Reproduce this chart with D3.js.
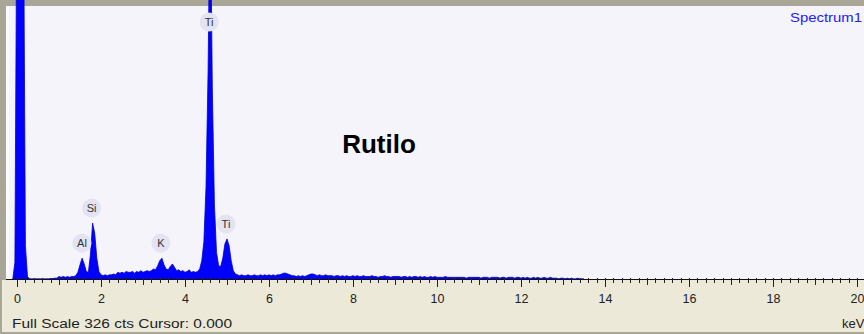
<!DOCTYPE html>
<html><head><meta charset="utf-8">
<script src="https://cdn.jsdelivr.net/npm/d3@7"></script>
<style>body{margin:0;background:#fff}svg{display:block}</style>
</head><body>
<svg id="c" width="864" height="334"></svg>
<script>
// ---- data ----
const channelStart = -0.10;   // keV of first channel
const channelWidth = 0.05;    // keV per channel
const counts = [
0,20,500,500,500,500,40,3,0,0, 0,0,0,0,0,0,0,0,0.5,0.5,
1,1,3,2,3,2,3,2,3,3, 4,8,17,25,18,9,8,30,67,55,
25,9,5,4,5,4,5,5,6,5, 8,7,8,7,9,8,8,9,7,9,
8,10,8,9,10,9,10,12,11,16, 22,25,17,12,11,15,18,14,10,11,
9,10,8,9,11,8,9,8,9,12, 22,45,110,250,480,230,90,32,16,15,
25,42,48,40,22,10,6,5,4,5, 4,4,5,4,4,5,4,4,5,4,
5,4,5,4,5,4,5,5,6,7, 7,6,5,4,4,3,4,3,4,3,
4,5,6,6,5,4,5,4,4,5, 4,4,4,3,4,4,3,4,3,4,
3,3,4,
3,4,3,3,4,3,3,3,4,3, 3,2,3,3,4,3,3,2,3,3, 3,3,2,3,3,2,3,2,3,3, 2,3,2,3,2,2,3,2,3,2,
2,2,2,3,2,2,2,2,2,2, 2,2,2,1,2,2,2,2,2,2, 1,2,2,2,1,2,2,2,2,1, 2,2,1,2,2,2,1,2,2,1,
2,1,2,1,1,2,1,2,1,1, 2,1,1,2,1,1,1,0,1,1, 0,1,0,1,0,0,1,0,0,0
];
const peakLabels = ["Ti", "Si", "Al", "K", "Ti"];
const peakEnergies = [4.60, 1.80, 1.57, 3.45, 5.00];
const peakCounts = [480, 67, 25, 25, 48];
const tickValues = [0, 2, 4, 6, 8, 10, 12, 14, 16, 18, 20];
const fullScale = 326;
const title = "Rutilo";
const spectrumName = "Spectrum1";
const footer = "Full Scale 326 cts Cursor: 0.000";
const unit = "keV";

// ---- layout ----
const W = 864, H = 334;
const svg = d3.select("#c");
const x = d3.scaleLinear().domain([0, 20]).range([17, 857]);
const y = d3.scaleLinear().domain([0, fullScale]).range([279, 7]);

// background
svg.append("rect").attr("width", W).attr("height", H).attr("fill", "#f4f4fa");
svg.append("rect").attr("x", 6).attr("y", 6).attr("width", 3).attr("height", 274).attr("fill", "#fcfcfe");
svg.append("rect").attr("width", W).attr("height", 6).attr("fill", "#a9a597");
svg.append("rect").attr("width", 6).attr("height", 280).attr("fill", "#a9a597");

// clip
svg.append("clipPath").attr("id", "pc").append("rect")
  .attr("x", 9).attr("y", 0).attr("width", W - 9).attr("height", 279);

const data = counts.map((c, i) => ({e: channelStart + i * channelWidth, c}));
const area = d3.area().x(d => x(d.e)).y0(y(0)).y1(d => y(d.c)).curve(d3.curveLinear);
svg.append("path").datum(data).attr("clip-path", "url(#pc)")
  .attr("d", area).attr("fill", "#0000ff").attr("stroke", "#0000c8").attr("stroke-width", 0.8);

// bottom panel
svg.append("rect").attr("x", 0).attr("y", 280).attr("width", W).attr("height", 54).attr("fill", "#ece9d8");
svg.append("rect").attr("x", 0).attr("y", 280).attr("width", 2).attr("height", 54).attr("fill", "#a9a597");
svg.append("rect").attr("x", 0).attr("y", 332).attr("width", W).attr("height", 2).attr("fill", "#a9a597");

// axis line + ticks
svg.append("line").attr("x1", 6).attr("x2", W).attr("y1", 279.5).attr("y2", 279.5)
  .attr("stroke", "#111").attr("stroke-width", 1.2);
const minor = d3.range(0, 101).map(i => i * 0.2);
svg.append("g").selectAll("line").data(minor).join("line")
  .attr("x1", d => Math.round(x(d)) + 0.5).attr("x2", d => Math.round(x(d)) + 0.5)
  .attr("y1", 278)
  .attr("y2", (d, i) => i % 10 === 0 ? 287 : (i % 5 === 0 ? 285 : 283))
  .attr("stroke", "#222").attr("stroke-width", 1);

const axis = d3.axisBottom(x).tickValues(tickValues).tickSize(0).tickPadding(0).tickFormat(d3.format("d"));
const ag = svg.append("g").attr("transform", "translate(0,294)").call(axis);
ag.select(".domain").remove();
ag.selectAll("text").attr("font-family", "Liberation Sans, Arial, sans-serif")
  .attr("font-size", 12.5).attr("fill", "#222").attr("dy", "0.71em");

// peak labels
const lg = svg.append("g");
peakLabels.forEach((lab, i) => {
  const cx = x(peakEnergies[i]) - 1;
  const cy = Math.max(22, y(peakCounts[i]) - 15);
  lg.append("circle").attr("cx", cx).attr("cy", cy).attr("r", 9.5).attr("fill", "#e3e3f1");
  lg.append("text").attr("x", cx).attr("y", cy + 4).attr("text-anchor", "middle")
    .attr("font-family", "Liberation Sans, Arial, sans-serif").attr("font-size", 11).attr("fill", "#333").text(lab);
});

// texts
svg.append("text").attr("x", 379).attr("y", 153).attr("text-anchor", "middle")
  .attr("font-family", "Liberation Sans, Arial, sans-serif").attr("font-weight", "bold")
  .attr("font-size", 26).attr("fill", "#000").text(title);
svg.append("text").attr("x", 862).attr("y", 22).attr("text-anchor", "end")
  .attr("font-family", "Liberation Sans, Arial, sans-serif").attr("font-size", 12)
  .attr("fill", "#2020ff").attr("textLength", 72).attr("lengthAdjust", "spacingAndGlyphs").text(spectrumName);
svg.append("text").attr("x", 12).attr("y", 328)
  .attr("font-family", "Liberation Sans, Arial, sans-serif").attr("font-size", 12.5)
  .attr("fill", "#222").attr("textLength", 220).attr("lengthAdjust", "spacingAndGlyphs").text(footer);
svg.append("text").attr("x", 842).attr("y", 328)
  .attr("font-family", "Liberation Sans, Arial, sans-serif").attr("font-size", 13)
  .attr("fill", "#222").text(unit);
</script>
</body></html>
